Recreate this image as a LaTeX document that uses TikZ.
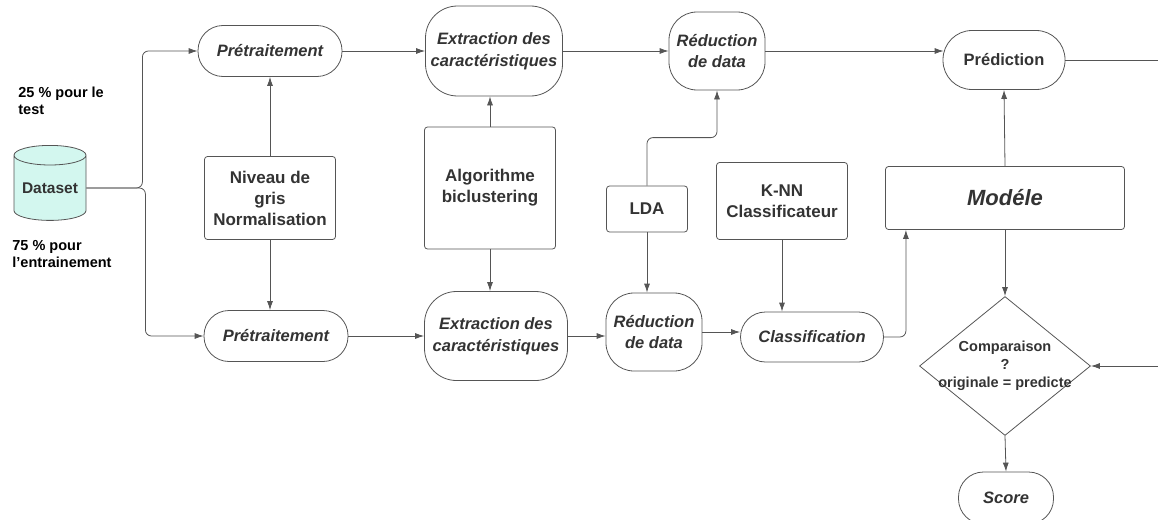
\documentclass[tikz,border=0pt]{standalone}
\usepackage{fontspec}
\setmainfont{Liberation Sans}
\usetikzlibrary{shapes.geometric,arrows.meta,calc}
\definecolor{ln}{HTML}{555555}
\definecolor{tx}{HTML}{333333}
\definecolor{cyl}{HTML}{D3F7EF}
\newlength{\lw}
\setlength{\lw}{0.8pt}
\tikzstyle{every picture}+=[>={Latex[length=9pt,width=6pt]}]
\tikzstyle{every picture}+=[line width=\lw]
\tikzstyle{every picture}+=[x=1pt,y=-1pt]
\tikzstyle{every node}+=[font=\bfseries\fontsize{17}{21}\selectfont,text=tx,align=center]
\tikzstyle{stadium}=[draw=ln,rounded corners=25pt,font=\bfseries\itshape\fontsize{16.5}{21.5}\selectfont,inner sep=0pt]
\tikzstyle{box}=[draw=ln,rounded corners=3pt,inner sep=0pt]
\tikzstyle{conn}=[draw=ln,->]
\tikzstyle{note}=[text=black,align=left,font=\bfseries\fontsize{14.5}{17}\selectfont,anchor=north west,inner sep=0pt]

\begin{document}
\begin{tikzpicture}
\useasboundingbox (0,0) rectangle (1158,519);

% source
\node[cylinder,shape border rotate=90,draw=ln,fill=cyl,aspect=0.35,
  minimum width=72pt,minimum height=75pt,inner sep=0pt,
  font=\bfseries\fontsize{15.5}{18}\selectfont] (data) at (50,188) {Dataset};
\node[note] (test) at (18,87) {25 \% pour le\\test};
\node[note] (train) at (12,240) {75 \% pour\\l'entrainement};

% top row
\node[stadium,minimum width=144pt,minimum height=51pt] (pre1) at (270,51) {Prétraitement};
\node[stadium,minimum width=137pt,minimum height=90pt,rounded corners=32pt] (ext1) at (494,51) {Extraction des\\caractéristiques};
\node[stadium,minimum width=96pt,minimum height=78pt,rounded corners=28pt] (red1) at (717,51) {Réduction\\de data};
\node[stadium,minimum width=122pt,minimum height=59pt,rounded corners=29pt,font=\bfseries\fontsize{16.5}{20}\selectfont] (pred) at (1004,60) {Prédiction};

% middle row
\node[box,minimum width=131pt,minimum height=83pt] (niv) at (270,198) {Niveau de\\gris\\Normalisation};
\node[box,minimum width=131pt,minimum height=122pt] (algo) at (490,188) {Algorithme\\biclustering};
\node[box,minimum width=81pt,minimum height=46pt] (lda) at (647,209) {LDA};
\node[box,minimum width=131pt,minimum height=77pt] (knn) at (782,201) {K-NN\\Classificateur};
\node[box,minimum width=239pt,minimum height=63pt,font=\bfseries\itshape\fontsize{22}{26}\selectfont] (mod) at (1005,198) {Modéle};

% bottom row
\node[stadium,minimum width=144pt,minimum height=51pt] (pre2) at (276,336) {Prétraitement};
\node[stadium,minimum width=143pt,minimum height=89pt,rounded corners=32pt] (ext2) at (496,336) {Extraction des\\caractéristiques};
\node[stadium,minimum width=96pt,minimum height=78pt,rounded corners=28pt] (red2) at (654,332) {Réduction\\de data};
\node[stadium,minimum width=143pt,minimum height=50pt] (cls) at (812,337) {Classification};
\node[diamond,draw=ln,minimum width=171pt,minimum height=139pt,inner sep=0pt,
  font=\bfseries\fontsize{14.5}{18}\selectfont] (cmp) at (1005,366)
  {\makebox[0pt]{\begin{tabular}{@{}c@{}}Comparaison\\?\\originale = predicte\end{tabular}}};
\node[stadium,minimum width=95pt,minimum height=52pt] (score) at (1006,498) {Score};

\coordinate (outR) at (1158,60);
\coordinate (inR) at (1158,366);

% connectors
\draw[conn,rounded corners=6pt] (data.east) -- ++(56,0) |- (pre1.west);
\draw[conn,rounded corners=6pt] (data.east) -- ++(59,0) |- (pre2.west);
\draw[conn] (niv.north) -- (niv.north |- pre1.south);
\draw[conn] (niv.south) -- (niv.south |- pre2.north);
\draw[conn] (pre1.east) -- (ext1.west);
\draw[conn] (pre2.east) -- (pre2.east -| ext2.west);
\draw[conn] (algo.north) -- (algo.north |- ext1.south);
\draw[conn] (algo.south) -- (algo.south |- ext2.north);
\draw[conn] (ext1.east) -- (red1.west);
\draw[conn] (ext2.east) -- (ext2.east -| red2.west);
\draw[conn,rounded corners=6pt] (lda.north) -- ++(0,-48) -| (red1.south);
\draw[conn] (lda.south) -- (lda.south |- red2.north);
\draw[conn] (red2.east) -- (red2.east -| cls.west);
\draw[conn] (knn.south) -- (knn.south |- cls.north);
\draw[conn,rounded corners=6pt] (cls.east) -- ++(22,0) coordinate (c1) -- (c1 |- mod.south);
\draw[conn] (red1.east) -- ($(pred.west |- red1.east)+(1,0)$);
\draw[conn] (mod.north) -- (pred.south);
\draw[draw=ln] (pred.east) -- (outR);
\draw[conn] (mod.south) -- (cmp.north);
\draw[conn] (inR) -- (cmp.east);
\draw[conn] (cmp.south) -- (score.north);
\end{tikzpicture}
\end{document}
